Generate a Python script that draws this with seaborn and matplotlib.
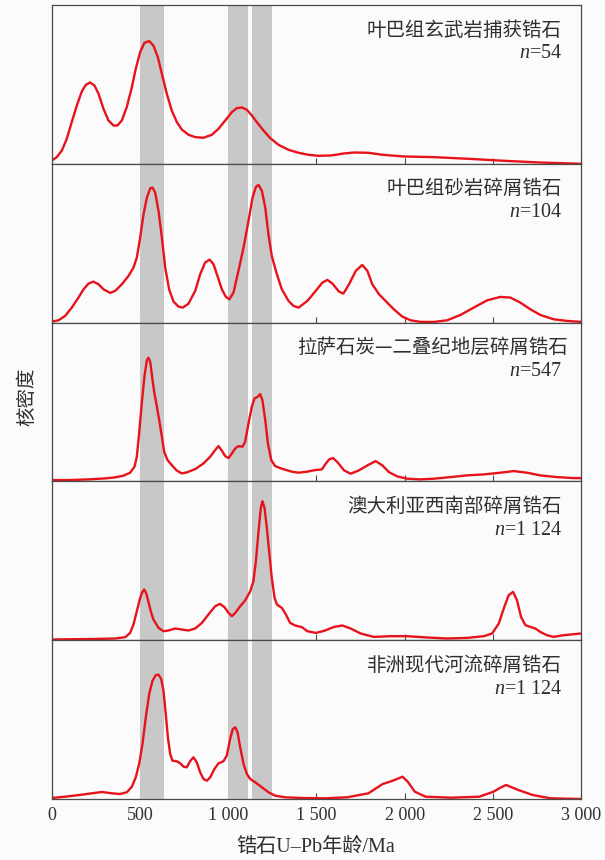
import matplotlib
matplotlib.use("Agg")
import matplotlib.pyplot as plt
import pandas as pd
import seaborn as sns

# --- Kernel density curves of zircon U-Pb ages (relative density) ---
ages_yeba_basalt = [0, 28, 57, 85, 113, 142, 170, 193, 217, 242, 265, 293, 321, 350, 372, 397,
                    425, 454, 476, 501, 525, 552, 576, 601, 624, 652, 680, 709, 737, 775, 813,
                    860, 907, 945, 983, 1021, 1049, 1077, 1106, 1134, 1162, 1200, 1238, 1285,
                    1342, 1399, 1455, 1512, 1580, 1620, 1654, 1714, 1795, 1876, 1998, 2160,
                    2362, 2564, 2767, 3000]
dens_yeba_basalt = [3.3, 6.7, 13.3, 25, 41.7, 58.3, 72.3, 79, 81.3, 78.3, 70, 55, 43.3, 38.3,
                    38.3, 43.3, 56.7, 76.7, 95, 111.7, 121, 122.7, 118.3, 106.7, 90, 70, 53.3,
                    41.7, 34.3, 29, 26.7, 26, 29, 35, 43.3, 51.7, 55.7, 56.3, 54, 48.3, 41.7,
                    33.3, 25.7, 19, 14, 11, 9, 8, 8.3, 9.3, 10.3, 11.3, 11, 9, 7.3, 6.7, 5, 3,
                    1.3, 0]

ages_yeba_sand = [0, 38, 76, 113, 151, 180, 208, 236, 265, 293, 331, 359, 397, 435, 463, 482,
                  501, 520, 539, 558, 571, 586, 605, 624, 643, 665, 690, 718, 743, 775, 813,
                  841, 869, 894, 917, 936, 964, 987, 1007, 1030, 1058, 1087, 1115, 1138, 1157,
                  1172, 1191, 1210, 1228, 1247, 1276, 1304, 1342, 1370, 1399, 1449, 1496,
                  1534, 1562, 1591, 1628, 1653, 1685, 1723, 1760, 1789, 1817, 1855, 1892,
                  1939, 1987, 2034, 2090, 2166, 2241, 2317, 2392, 2468, 2543, 2600, 2656,
                  2713, 2769, 2845, 2920, 3000]
dens_yeba_sand = [1, 2.3, 6.7, 15, 25, 33.3, 39, 41, 38.3, 33.3, 29.7, 31.7, 38.3, 46.7, 55,
                  65, 85, 108.3, 125, 134.3, 135, 130, 111.7, 85, 55, 33.3, 21, 16, 15, 19,
                  31.7, 48.3, 60, 63, 58.3, 48.3, 33.3, 25.7, 23.3, 30, 51.7, 75, 101.7, 125,
                  135.7, 137.7, 131.7, 115, 88.3, 66.7, 48.3, 33.3, 21.7, 16.7, 15, 21.7,
                  31.7, 40, 42.7, 39, 31, 29, 38.3, 51.7, 57.7, 51.7, 38.3, 28.3, 21.7, 13.3,
                  6, 2.3, 0.7, 0.7, 2.3, 7.7, 15, 22.3, 25.7, 25, 20, 13.3, 7.7, 3.3, 1.7, 0.7]

ages_lhasa = [0, 95, 208, 302, 359, 406, 444, 469, 482, 495, 510, 525, 539, 548, 558, 571,
              582, 595, 609, 624, 637, 656, 680, 709, 737, 765, 813, 860, 898, 926, 945, 964,
              983, 1002, 1021, 1040, 1058, 1081, 1096, 1115, 1134, 1149, 1168, 1181, 1194,
              1210, 1225, 1244, 1266, 1304, 1361, 1399, 1446, 1493, 1531, 1552, 1572, 1594,
              1619, 1657, 1694, 1741, 1789, 1836, 1874, 1911, 1958, 2015, 2090, 2166, 2260,
              2354, 2449, 2543, 2618, 2694, 2769, 2864, 2958, 3000]
dens_lhasa = [1.3, 1.3, 2, 3, 4, 5.7, 8.7, 14.7, 24.7, 48, 78, 104.7, 121.3, 123.7, 119.7,
              101.3, 88, 75.3, 61.3, 44.7, 29.7, 21.3, 16.3, 10.7, 8, 9, 12.3, 18, 24.7, 31.3,
              35.3, 30.7, 25.3, 23.3, 28, 33, 35.3, 34.7, 39.7, 58, 74.7, 83, 84.7, 87.3, 81.3,
              61.3, 38, 21.3, 15.3, 12.7, 9.7, 8.7, 9.7, 11.3, 12, 17.5, 22, 23.3, 19.3, 11,
              7.7, 11, 16, 20.3, 16, 9.3, 5, 2.7, 2, 2.7, 4.3, 6, 7, 8.7, 10.3, 8.7, 6, 4.3,
              3.3, 3.3]

ages_sw_australia = [0, 132, 265, 359, 416, 444, 463, 482, 501, 512, 524, 535, 548, 563, 576,
                     605, 633, 662, 699, 737, 775, 813, 851, 888, 926, 954, 979, 1002, 1021,
                     1040, 1068, 1096, 1125, 1143, 1157, 1172, 1185, 1194, 1206, 1219, 1232,
                     1247, 1263, 1276, 1304, 1327, 1351, 1380, 1418, 1449, 1496, 1543, 1600,
                     1647, 1694, 1751, 1826, 1921, 2015, 2128, 2241, 2354, 2449, 2496, 2534,
                     2562, 2590, 2615, 2637, 2660, 2685, 2713, 2741, 2769, 2807, 2845, 2901,
                     2958, 3000]
dens_sw_australia = [0.7, 1, 1.3, 1.7, 3, 7.3, 15.7, 29, 42.3, 47.7, 50.7, 47, 38.3, 27.7,
                     20.7, 12.3, 9, 9.7, 11.7, 10.7, 9.7, 11.7, 17.3, 25.7, 34, 36.3, 33, 27.3,
                     24, 27.3, 34, 39.7, 49, 59, 79, 109, 132.3, 139, 132.3, 112.3, 89, 62.3,
                     42.3, 35.7, 32.3, 25.7, 17.3, 14.7, 13, 9, 7.3, 9.3, 13.3, 14.7, 11.7, 6.7,
                     3.3, 4, 4, 2.7, 1.7, 2.3, 4, 6.7, 16.7, 31.7, 45, 48.3, 40, 23.3, 15, 13.3,
                     11.7, 8.3, 5, 3.3, 5, 6, 6.7]

ages_africa = [0, 76, 170, 227, 284, 340, 387, 425, 454, 476, 495, 514, 533, 552, 571, 590,
               605, 620, 633, 646, 658, 671, 684, 709, 728, 747, 765, 784, 803, 822, 841, 860,
               879, 898, 922, 945, 973, 992, 1011, 1026, 1040, 1053, 1068, 1087, 1106, 1125,
               1153, 1191, 1229, 1266, 1323, 1418, 1552, 1674, 1795, 1876, 1920, 1957, 1988,
               2018, 2058, 2119, 2261, 2423, 2504, 2545, 2575, 2610, 2645, 2726, 2827, 3000]
dens_africa = [1, 2.3, 4.3, 5.7, 7, 5.7, 5, 6.7, 12.3, 21.7, 35, 55, 81.7, 105, 118.3, 124,
               124.3, 120, 108.3, 85, 61.7, 45, 38.3, 37.7, 35.7, 32.3, 31.7, 37.7, 41.7, 36.7,
               26.7, 20, 18.3, 21.7, 30, 35.7, 37.7, 43.3, 60, 70, 71.7, 66.7, 51.7, 35, 25, 20,
               16.7, 11.7, 6.7, 3.3, 1.7, 1, 0.7, 1.7, 5.7, 15, 17.5, 20, 22.3, 17.3, 7.3, 2.3,
               1.3, 2.3, 7.3, 11.5, 14, 11.5, 9, 4, 0.7, 0]

panel_titles = ["叶巴组玄武岩捕获锆石", "叶巴组砂岩碎屑锆石", "拉萨石炭—二叠纪地层碎屑锆石",
                "澳大利亚西南部碎屑锆石", "非洲现代河流碎屑锆石"]
sample_sizes = ["54", "104", "547", "1 124", "1 124"]

# Age windows highlighted across all panels (Ma)
highlight_windows = [(500, 635), (1000, 1110), (1135, 1250)]

tick_values = [0, 500, 1000, 1500, 2000, 2500, 3000]
tick_labels = ["0", "500", "1 000", "1 500", "2 000", "2 500", "3 000"]

x_label = "锆石U–Pb年龄/Ma"
y_label = "核密度"

curves = [
    (ages_yeba_basalt, dens_yeba_basalt),
    (ages_yeba_sand, dens_yeba_sand),
    (ages_lhasa, dens_lhasa),
    (ages_sw_australia, dens_sw_australia),
    (ages_africa, dens_africa),
]

# --- style ---
sns.set_theme(style="white")
plt.rcParams["font.family"] = ["Liberation Serif", "Noto Sans CJK SC"]
plt.rcParams["mathtext.fontset"] = "custom"
plt.rcParams["mathtext.it"] = "Liberation Serif:italic"
plt.rcParams["mathtext.rm"] = "Liberation Serif"

W, H = 605, 860
bg = "#fbfbfb"
line_red = "#e8121b"
band_grey = "#c8c8c8"
spine_col = "#4a4a4a"
text_col = "#2f2f2f"

fig, axes = plt.subplots(5, 1, figsize=(W / 100, H / 100), dpi=100, sharex=True)
fig.patch.set_facecolor(bg)
fig.subplots_adjust(left=51.8 / W, right=581 / W, top=1 - 5 / H, bottom=1 - 799 / H,
                    hspace=0)

panel_px = (799 - 5) / 5
for i, (ax, (ages, dens)) in enumerate(zip(axes, curves)):
    ax.set_facecolor(bg)
    for lo, hi in highlight_windows:
        ax.axvspan(lo, hi, color=band_grey, lw=0, zorder=1)
    df = pd.DataFrame({"age": ages, "density": dens})
    sns.lineplot(data=df, x="age", y="density", ax=ax, color=line_red, lw=1.7,
                 estimator=None, sort=False, zorder=3)
    ax.set_xlim(0, 3000)
    ax.set_ylim(0, panel_px)
    ax.set_yticks([])
    ax.set_ylabel("")
    ax.set_xlabel("")
    ax.set_xticks(tick_values)
    ax.tick_params(axis="x", direction="in", length=4.5, width=0.8, color=spine_col,
                   bottom=True, labelsize=13, pad=6, labelcolor=text_col)
    for s in ax.spines.values():
        s.set_color(spine_col)
        s.set_linewidth(0.9)
        s.set_zorder(4)

    x_right = 1 - (581 - 562) / (581 - 51.8)
    ax.text(x_right + (0.012 if i == 2 else 0), 1 - 25 / panel_px, panel_titles[i],
            transform=ax.transAxes, ha="right", va="center", fontsize=14,
            family=["Noto Sans CJK SC"], color=text_col)
    ax.text(x_right, 1 - 49 / panel_px, r"$n$=" + sample_sizes[i],
            transform=ax.transAxes, ha="right", va="center", fontsize=14.5,
            family=["Liberation Serif"], color=text_col)

axes[-1].set_xticklabels(tick_labels)

fig.text(316 / W, 1 - 847 / H, x_label, ha="center", va="center", fontsize=14.5,
         family=["Liberation Serif", "Noto Sans CJK SC"], color=text_col)
fig.text(27 / W, 1 - 397 / H, y_label, ha="center", va="center", rotation=90,
         fontsize=14, family=["Noto Sans CJK SC"], color=text_col)

fig.savefig("out.png", dpi=100, facecolor=bg)
